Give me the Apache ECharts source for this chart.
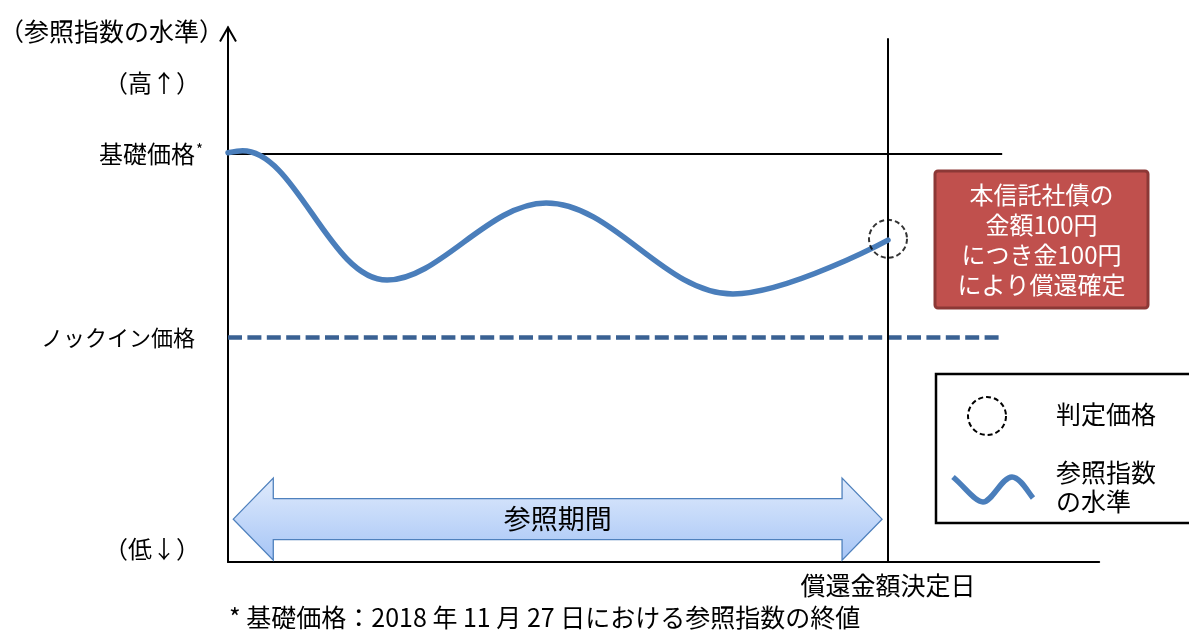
<!DOCTYPE html>
<html>
<head>
<meta charset="utf-8">
<script src="https://cdn.jsdelivr.net/npm/echarts@6/dist/echarts.min.js"></script>
<style>html,body{margin:0;padding:0;background:#fff;}#c{width:1189px;height:630px;}</style>
</head>
<body>
<div id="c"></div>
<script>
// ---- data ----
const curveX = [0, 2.2, 24.1, 48.2, 76.5, 100];
const curveY = [100.3, 100.8, 69.1, 88.0, 65.7, 78.9];
const basePrice = 100;
const knockInPrice = 55;
const refLineEnd = [117.3, 117.0];
const decisionDay = 100;
const decisionLineTop = 128.4;
const judgeLevel = 79.2;
const periodRange = [0.8, 99.1];
const periodLevel = 10.5;
const periodLabel = '参照期間';
const yLabelValues = [117.4, 100, 55, 3.2];
const yLabelTexts = ['（高↑）', '基礎価格*', 'ノックイン価格', '（低↓）'];
const xLabelValues = [100];
const xLabelTexts = ['償還金額決定日'];
const yAxisName = '（参照指数の水準）';
const boxLines = ['本信託社債の', '金額100円', 'につき金100円', 'により償還確定'];
const legendNames = ['判定価格', '参照指数\nの水準'];
const footnote = '* 基礎価格：2018 年 11 月 27 日における参照指数の終値';

const FONT = '"Noto Sans CJK JP", "Noto Sans", sans-serif';
const chart = echarts.init(document.getElementById('c'), null, {renderer: 'canvas'});

const option = {
  animation: false,
  backgroundColor: '#fff',
  textStyle: {fontFamily: FONT},
  title: {
    text: footnote, left: 229, top: 605, padding: 0,
    textStyle: {fontSize: 25, fontWeight: 'normal', color: '#000', fontFamily: FONT}
  },
  grid: {left: 228, top: 27.52, width: 871.2, height: 534.48, containLabel: false, outerBoundsMode: 'none'},
  xAxis: {
    type: 'value', min: 0, max: 132,
    axisLine: {show: true, lineStyle: {color: '#000', width: 2}},
    axisTick: {show: false},
    splitLine: {show: false},
    axisLabel: {
      customValues: xLabelValues, margin: 11, fontSize: 25, color: '#000', fontFamily: FONT,
      formatter: v => xLabelTexts[xLabelValues.indexOf(v)] || ''
    }
  },
  yAxis: {
    type: 'value', min: 0, max: 131,
    name: yAxisName, nameLocation: 'end', nameGap: -3.5,
    nameTextStyle: {align: 'right', verticalAlign: 'middle', fontSize: 25, color: '#000', padding: [0, 4, 0, 0], fontFamily: FONT},
    axisLine: {show: true, lineStyle: {color: '#000', width: 2}},
    axisTick: {show: false},
    splitLine: {show: false},
    axisLabel: {
      customValues: yLabelValues, margin: 25, fontSize: 24, color: '#000', fontFamily: FONT,
      formatter: v => {
        const t = yLabelTexts[yLabelValues.indexOf(v)] || '';
        if (t.endsWith('*')) return '{m|' + t.slice(0, -1) + '}{s|*}';
        if (t === 'ノックイン価格') return '{k|' + t + '}';
        return '{p|' + t + '}';
      },
      rich: {
        m: {fontSize: 24, color: '#000', fontFamily: FONT},
        s: {fontSize: 15, color: '#000', verticalAlign: 'top', padding: [0, 0, 8, 1], fontFamily: FONT},
        k: {fontSize: 22, color: '#000', padding: [0, 8, 0, 0], fontFamily: FONT},
        p: {fontSize: 24, color: '#000', padding: [0, 3, 0, 0], fontFamily: FONT}
      }
    }
  },
  series: [
    {
      name: 'base', type: 'line', symbol: 'none', silent: true, z: 2,
      data: [[0, basePrice], [refLineEnd[0], basePrice]],
      lineStyle: {color: '#000', width: 2}
    },
    {
      name: 'knockin', type: 'line', symbol: 'none', silent: true, z: 2,
      data: [[0, knockInPrice], [refLineEnd[1], knockInPrice]],
      lineStyle: {color: '#3A6193', width: 4.5, type: [14, 5.4]}
    },
    {
      name: 'decision', type: 'line', symbol: 'none', silent: true, z: 2,
      data: [[decisionDay, 0], [decisionDay, decisionLineTop]],
      lineStyle: {color: '#000', width: 2}
    },
    {
      name: legendNames[1], type: 'line', symbol: 'none', smooth: 0.36, silent: true, z: 4,
      data: curveX.map((x, i) => [x, curveY[i]]),
      lineStyle: {color: '#4A7EBB', width: 5.5, cap: 'round'}
    },
    {
      name: legendNames[0], type: 'scatter', symbol: 'circle', symbolSize: 38, silent: true, z: 5,
      data: [[decisionDay, judgeLevel]],
      itemStyle: {color: 'rgba(0,0,0,0)', borderColor: '#000', borderWidth: 2, borderType: [5, 3]}
    },
    {
      name: 'period', type: 'custom', silent: true, z: 3,
      data: [[periodRange[0], periodRange[1], periodLevel]],
      renderItem: function (params, api) {
        const s = api.coord([api.value(0), api.value(2)]);
        const e = api.coord([api.value(1), api.value(2)]);
        const cy = s[1], hl = 40, hh = 41, sh = 20.5;
        const pts = [
          [s[0], cy], [s[0] + hl, cy - hh], [s[0] + hl, cy - sh], [e[0] - hl, cy - sh],
          [e[0] - hl, cy - hh], [e[0], cy], [e[0] - hl, cy + hh], [e[0] - hl, cy + sh],
          [s[0] + hl, cy + sh], [s[0] + hl, cy + hh]
        ];
        return {
          type: 'group',
          children: [
            {
              type: 'polygon', shape: {points: pts},
              style: {
                fill: new echarts.graphic.LinearGradient(0, 0, 0, 1, [
                  {offset: 0, color: '#e0ebfc'}, {offset: 1, color: '#a6c5f6'}
                ]),
                stroke: '#4F81BD', lineWidth: 1.3
              }
            },
            {
              type: 'text',
              style: {
                text: periodLabel, x: (s[0] + e[0]) / 2, y: cy,
                align: 'center', verticalAlign: 'middle',
                font: '27px ' + FONT, fill: '#000'
              }
            }
          ]
        };
      }
    }
  ]
};
chart.setOption(option);

// axis arrow, call-out box and legend
const tip = chart.convertToPixel({gridIndex: 0}, [0, 131]);
const wave = [
  [953, 477, 965, 487, 975, 502, 983, 502],
  [983, 502, 992, 502, 1002, 477, 1012, 477],
  [1012, 477, 1020, 477, 1028, 492, 1033, 498]
];
chart.setOption({
  graphic: [
    {
      type: 'polyline', silent: true, z: 10,
      shape: {points: [[tip[0] - 8, tip[1] + 14], [tip[0], tip[1]], [tip[0] + 8, tip[1] + 14]]},
      style: {stroke: '#000', lineWidth: 2, fill: null}
    },
    {type: 'rect', silent: true, z: 10, shape: {x: 935, y: 171, width: 213, height: 137, r: 3},
     style: {fill: '#C0504D', stroke: '#8C3836', lineWidth: 3}},
    {type: 'text', silent: true, z: 11, x: 1041.5, y: 240,
     style: {text: boxLines.join('\n'), align: 'center', verticalAlign: 'middle',
             font: '24px ' + FONT, lineHeight: 30, fill: '#fff'}},
    {type: 'rect', silent: true, z: 10, shape: {x: 936, y: 374, width: 300, height: 149},
     style: {fill: '#fff', stroke: '#000', lineWidth: 2.5}},
    {type: 'circle', silent: true, z: 11, shape: {cx: 987, cy: 416, r: 19},
     style: {fill: null, stroke: '#000', lineWidth: 2, lineDash: [5, 3]}},
    {type: 'text', silent: true, z: 11, x: 1056, y: 414,
     style: {text: legendNames[0], align: 'left', verticalAlign: 'middle', font: '25px ' + FONT, fill: '#000'}},
    ...wave.map(w => ({
      type: 'bezierCurve', silent: true, z: 11,
      shape: {x1: w[0], y1: w[1], cpx1: w[2], cpy1: w[3], cpx2: w[4], cpy2: w[5], x2: w[6], y2: w[7]},
      style: {fill: null, stroke: '#4A7EBB', lineWidth: 5.5}
    })),
    {type: 'text', silent: true, z: 11, x: 1056, y: 487,
     style: {text: legendNames[1], align: 'left', verticalAlign: 'middle', font: '25px ' + FONT, lineHeight: 29, fill: '#000'}}
  ]
});
</script>
</body>
</html>
